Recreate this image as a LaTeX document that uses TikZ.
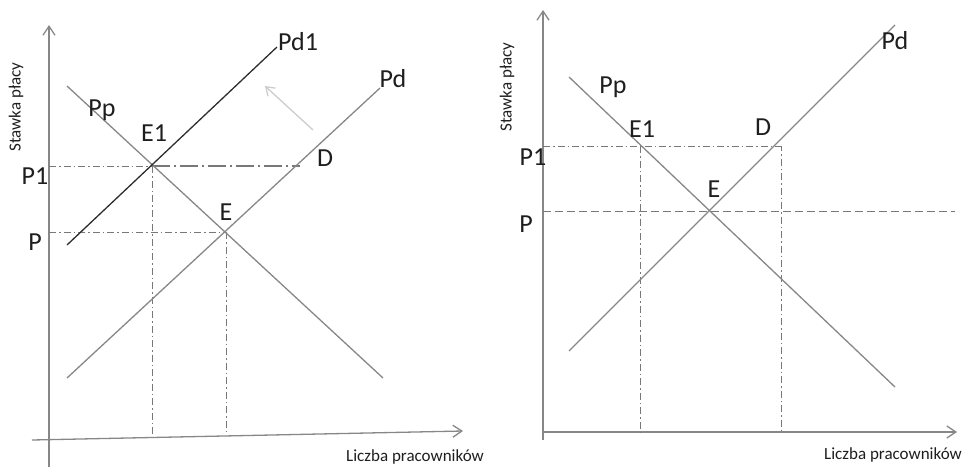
\documentclass[tikz,border=0pt]{standalone}
\usepackage{fontspec}
\setmainfont{Carlito}
\usetikzlibrary{arrows.meta}
\definecolor{linegray}{RGB}{135,135,135}
\definecolor{guidegray}{RGB}{120,120,120}
\definecolor{darkline}{RGB}{45,45,45}
\definecolor{shiftgray}{RGB}{205,205,205}
\definecolor{textgray}{RGB}{30,30,30}

\begin{document}
\begin{tikzpicture}[x=1pt,y=-1pt,
  curve/.style={draw=linegray,line width=1.3pt},
  axis/.style={draw=linegray,line width=1.3pt,-{Straight Barb[length=9pt,width=12pt]}},
  guide/.style={draw=guidegray,line width=0.9pt,dash pattern=on 7pt off 3pt on 1.5pt off 3pt},
  lbl/.style={font=\fontsize{26}{26}\selectfont,text=textgray,inner sep=0pt},
  axlbl/.style={font=\fontsize{17}{17}\selectfont,text=textgray,inner sep=0pt}]
\useasboundingbox (0,0) rectangle (974,469);
% left chart: shift of demand
\coordinate (lO) at (49,467);
\coordinate (lYtop) at (49,25);
\coordinate (lXa) at (32,440);
\coordinate (lXb) at (463,431);
\coordinate (lPpA) at (67,86);
\coordinate (lPpB) at (383,378);
\coordinate (lPdA) at (67,378);
\coordinate (lPdB) at (380,88);
\coordinate (lPdoneA) at (67,245);
\coordinate (lPdoneB) at (277,47);
\coordinate (lE1) at (152,166);
\coordinate (lE) at (226,232);
\coordinate (lD) at (300,166);
\coordinate (lP1) at (49,166);
\coordinate (lP) at (49,232);
\coordinate (lQone) at (152,437);
\coordinate (lQ) at (226,435);
\coordinate (lShiftA) at (313,130);
\coordinate (lShiftB) at (265,86);
\path[axis] (lO) -- (lYtop);
\path[axis] (lXa) -- (lXb);
\path[guide] (lP1) -- (lE1);
\path[draw=guidegray,line width=1.6pt,dash pattern=on 18pt off 4pt on 2pt off 4pt] (lE1) -- (lD);
\path[guide] (lP) -- (lE);
\path[guide] (lE1) -- (lQone);
\path[guide] (lE) -- (lQ);
\path[curve] (lPpA) -- (lPpB);
\path[curve] (lPdA) -- (lPdB);
\path[draw=darkline,line width=1.3pt] (lPdoneA) -- (lPdoneB);
\path[draw=shiftgray,line width=1.3pt,-{Straight Barb[length=8pt,width=11pt]}] (lShiftA) -- (lShiftB);
\node[lbl] (lPdoneL) at (298,42) {Pd1};
\node[lbl] (lPdL) at (393,79) {Pd};
\node[lbl] (lPpL) at (102,110) {Pp};
\node[lbl] (lE1L) at (154,133) {E1};
\node[lbl] (lDL) at (325,158) {D};
\node[lbl] (lEL) at (226,212) {E};
\node[lbl] (lP1L) at (35,176) {P1};
\node[lbl] (lPL) at (35,242) {P};
\node[axlbl,rotate=90] (lYL) at (16,107) {Stawka płacy};
\node[axlbl] (lXL) at (415,457) {Liczba pracowników};
% right chart: wage above equilibrium
\coordinate (rO) at (543,440);
\coordinate (rYtop) at (543,10);
\coordinate (rXb) at (957,432);
\coordinate (rXa) at (543,432);
\coordinate (rPpA) at (569,77);
\coordinate (rPpB) at (895,387);
\coordinate (rPdA) at (569,351);
\coordinate (rPdB) at (895,25);
\coordinate (rE1) at (640,146);
\coordinate (rD) at (779,146);
\coordinate (rE) at (709,211);
\coordinate (rP1) at (543,146);
\coordinate (rP) at (543,211);
\coordinate (rPend) at (955,211);
\coordinate (rQone) at (640,432);
\coordinate (rQ) at (781,432);
\path[axis] (rO) -- (rYtop);
\path[axis] (rXa) -- (rXb);
\path[guide] (rP1) -- (rD);
\path[guide] (rE1) -- (rQone);
\path[guide] (rD) -- ++(2,0) -- (rQ);
\path[draw=guidegray,line width=0.9pt,dash pattern=on 8pt off 4pt] (rP) -- (rPend);
\path[curve] (rPpA) -- (rPpB);
\path[curve] (rPdA) -- (rPdB);
\node[lbl] (rPdL) at (895,41) {Pd};
\node[lbl] (rPpL) at (613,87) {Pp};
\node[lbl] (rE1L) at (642,129) {E1};
\node[lbl] (rDL) at (763,127) {D};
\node[lbl] (rEL) at (714,189) {E};
\node[lbl] (rP1L) at (533,157) {P1};
\node[lbl] (rPL) at (526,224) {P};
\node[axlbl,rotate=90] (rYL) at (507,87) {Stawka płacy};
\node[axlbl] (rXL) at (893,455) {Liczba pracowników};
\end{tikzpicture}
\end{document}
